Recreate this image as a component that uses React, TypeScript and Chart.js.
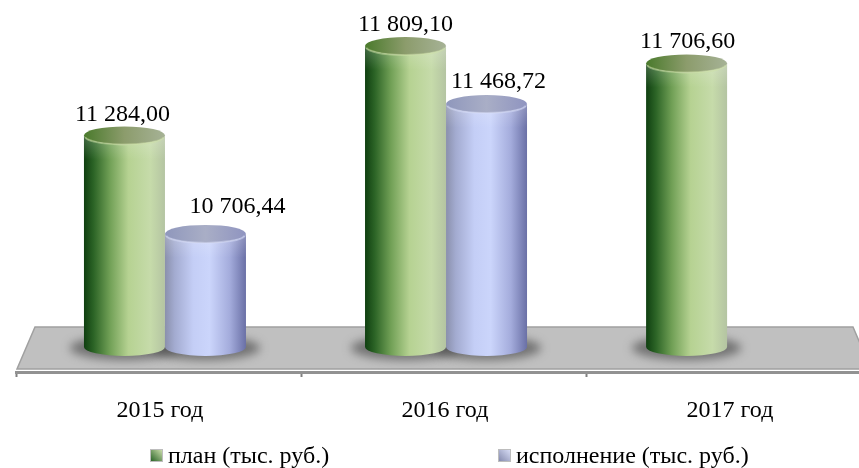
import React, { useEffect, useRef } from "react";
import { Chart, registerables } from "chart.js";

Chart.register(...registerables);

const categories = ["2015 год", "2016 год", "2017 год"];
const categoryIndex = [0, 1, 2];
const planValues = [11284.0, 11809.1, 11706.6];
const actualValues: (number | null)[] = [10706.44, 11468.72, null];
const planLabels = ["11 284,00", "11 809,10", "11 706,60"];
const actualLabels = ["10 706,44", "11 468,72", ""];
const seriesNames = ["план (тыс. руб.)", "исполнение (тыс. руб.)"];

const FONT = '"Liberation Serif", "Times New Roman", serif';
const FONT_SIZE = 24;

const palettes = [
  {
    side: [
      [0, "#0f3f10"], [0.12, "#2c6426"], [0.32, "#71a056"], [0.55, "#b6d292"],
      [0.82, "#c6dbaa"], [1, "#b4c4a2"],
    ],
    cap: ["#4a7a2c", "#8c9c6c", "#a6b296"],
    rim: "rgba(205,225,165,0.5)",
    swatch: ["#1d5a1d", "#d6e6b4"],
  },
  {
    side: [
      [0, "#8a90ac"], [0.12, "#a3abd0"], [0.35, "#c4cef6"], [0.55, "#cbd5fb"],
      [0.8, "#a4acdc"], [1, "#6a70a6"],
    ],
    cap: ["#8f97bc", "#a9aec6", "#8f94c0"],
    rim: "rgba(215,222,250,0.5)",
    swatch: ["#7e84a8", "#dde2fa"],
  },
];
const labelShift = [
  [[-2, -4], [0, -5], [1, -5]],
  [[32, -11], [12, -6], [0, 0]],
];

function sideGradient(ctx: CanvasRenderingContext2D, left: number, right: number, stops: any[]) {
  const g = ctx.createLinearGradient(left, 0, right, 0);
  stops.forEach(([o, c]) => g.addColorStop(o, c));
  return g;
}

const cylinderPlugin = {
  id: "cylinders",
  beforeDatasetsDraw(chart: any) {
    const { ctx, chartArea } = chart;
    const b = chartArea.bottom;
    ctx.save();
    ctx.beginPath();
    ctx.moveTo(35, b - 45);
    ctx.lineTo(853, b - 45);
    ctx.lineTo(871, b - 3);
    ctx.lineTo(17, b - 3);
    ctx.closePath();
    ctx.fillStyle = "#c0c0c0";
    ctx.fill();
    ctx.strokeStyle = "#a0a0a0";
    ctx.lineWidth = 1.5;
    ctx.stroke();
    ctx.filter = "blur(5px)";
    ctx.fillStyle = "rgba(80,80,80,0.7)";
    chart.data.datasets.forEach((_: any, d: number) => {
      chart.getDatasetMeta(d).data.forEach((el: any) => {
        ctx.beginPath();
        ctx.ellipse(el.x, el.base + 1, el.width / 2 + 14, 12, 0, 0, Math.PI * 2);
        ctx.fill();
      });
    });
    ctx.restore();
  },
  afterDatasetsDraw(chart: any) {
    const { ctx } = chart;
    chart.data.datasets.forEach((_: any, d: number) => {
      const pal = palettes[d];
      chart.getDatasetMeta(d).data.forEach((el: any) => {
        const left = el.x - el.width / 2;
        const right = el.x + el.width / 2;
        const rx = el.width / 2;
        const ry = 9;
        ctx.save();
        ctx.beginPath();
        ctx.moveTo(left, el.y);
        ctx.lineTo(left, el.base);
        ctx.ellipse(el.x, el.base, rx, ry, 0, Math.PI, 0, true);
        ctx.lineTo(right, el.y);
        ctx.ellipse(el.x, el.y, rx, ry, 0, 0, Math.PI, false);
        ctx.closePath();
        ctx.fillStyle = sideGradient(ctx, left, right, pal.side);
        ctx.fill();
        ctx.clip();
        const shade = ctx.createLinearGradient(0, el.y, 0, el.y + 24);
        shade.addColorStop(0, "rgba(255,255,255,0.22)");
        shade.addColorStop(1, "rgba(255,255,255,0)");
        ctx.fillStyle = shade;
        ctx.fillRect(left, el.y, el.width, 24);
        ctx.restore();
        ctx.save();
        ctx.beginPath();
        ctx.ellipse(el.x, el.y, rx, ry, 0, 0, Math.PI * 2);
        const cap = ctx.createLinearGradient(left, 0, right, 0);
        cap.addColorStop(0, pal.cap[0]);
        cap.addColorStop(0.5, pal.cap[1]);
        cap.addColorStop(1, pal.cap[2]);
        ctx.fillStyle = cap;
        ctx.fill();
        ctx.beginPath();
        ctx.ellipse(el.x, el.y + 1, rx - 1, ry - 1, 0, 0.1, Math.PI - 0.1);
        ctx.strokeStyle = pal.rim;
        ctx.lineWidth = 2;
        ctx.stroke();
        ctx.restore();
      });
    });
  },
  afterDraw(chart: any) {
    const { ctx } = chart;
    ctx.save();
    ctx.font = `${FONT_SIZE}px ${FONT}`;
    ctx.fillStyle = "#000";
    ctx.textAlign = "center";
    ctx.textBaseline = "alphabetic";
    chart.data.datasets.forEach((ds: any, d: number) => {
      chart.getDatasetMeta(d).data.forEach((el: any, i: number) => {
        const [dx, dy] = labelShift[d][i];
        ctx.fillText(ds.valueLabels[i], el.x + dx, el.y - 10 + dy);
      });
    });
    const swatchX = [150, 498];
    const textX = [168, 516];
    ctx.textAlign = "left";
    chart.data.datasets.forEach((ds: any, d: number) => {
      const x = swatchX[d];
      const g = ctx.createLinearGradient(x, 462, x + 13, 449);
      g.addColorStop(0, palettes[d].swatch[0]);
      g.addColorStop(1, palettes[d].swatch[1]);
      ctx.fillStyle = g;
      ctx.fillRect(x, 449, 13, 13);
      ctx.strokeStyle = "#bdbdbd";
      ctx.lineWidth = 1;
      ctx.strokeRect(x + 0.5, 449.5, 12, 12);
      ctx.fillStyle = "#000";
      ctx.fillText(ds.label, textX[d], 463);
    });
    ctx.restore();
  },
};

function points(values: (number | null)[]) {
  return categoryIndex
    .map((x, i) => ({ x, y: values[i] }))
    .filter((p) => p.y !== null);
}

export default function App() {
  const ref = useRef<HTMLCanvasElement>(null);
  useEffect(() => {
    document.body.style.margin = "0";
    const common = {
      base: 10043,
      backgroundColor: "transparent",
      barThickness: 81,
      xAxisID: "bars",
      yAxisID: "y",
    };
    const chart = new Chart(ref.current as HTMLCanvasElement, {
      type: "bar",
      data: {
        labels: categories,
        datasets: [
          { label: seriesNames[0], data: points(planValues), valueLabels: planLabels, ...common } as any,
          { label: seriesNames[1], data: points(actualValues), valueLabels: actualLabels, ...common } as any,
        ],
      },
      options: {
        responsive: false,
        animation: false,
        layout: { padding: { left: 16, right: 9, top: 0, bottom: 0 } },
        plugins: { legend: { display: false }, tooltip: { enabled: false } },
        scales: {
          y: { display: false, min: 9896, max: 12079 },
          bars: {
            type: "linear",
            display: false,
            position: "bottom",
            offset: false,
            min: -0.53,
            max: 2.512,
          },
          x: {
            type: "category",
            position: "bottom",
            offset: true,
            afterFit: (s: any) => {
              s.height = 96;
            },
            border: { color: "#929292", width: 3 },
            grid: { drawOnChartArea: false, drawTicks: true, tickLength: 5, tickWidth: 2, color: "#808080", offset: true },
            ticks: {
              color: "#000",
              padding: 19,
              labelOffset: 1.5,
              maxRotation: 0,
              font: { family: FONT, size: FONT_SIZE },
            },
          },
        },
      } as any,
      plugins: [cylinderPlugin],
    });
    return () => chart.destroy();
  }, []);
  return (
    <div style={{ width: 859, height: 468, overflow: "hidden", background: "#fff" }}>
      <canvas ref={ref} width={880} height={468} style={{ display: "block", width: 880, height: 468, filter: "blur(0.4px)" }} />
    </div>
  );
}
